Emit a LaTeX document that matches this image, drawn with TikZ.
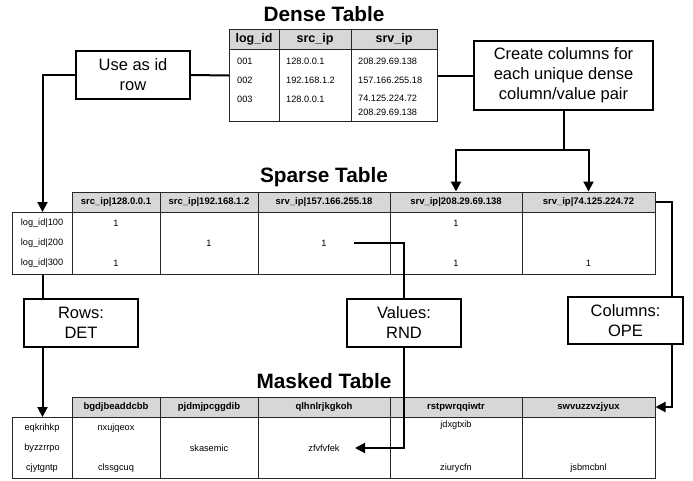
\documentclass[tikz,border=0pt]{standalone}
\usepackage{fontspec}
\setmainfont{Liberation Sans}
\usetikzlibrary{arrows.meta}

\definecolor{headgray}{RGB}{215,215,215}

\tikzset{
  conn/.style={line width=2pt},
  arr/.style={conn, -{Triangle[length=10pt,width=10pt]}},
  note/.style={draw, line width=1.7pt, fill=white, align=center, inner sep=0pt,
    font=\fontsize{16.5}{20}\selectfont},
  tabtitle/.style={font=\fontsize{20.8}{24}\selectfont\bfseries},
  frame/.style={draw=black!85, line width=1pt, inner sep=0pt},
  headcell/.style={frame, fill=headgray, minimum height=20pt,
    font=\fontsize{9.5}{11}\selectfont\bfseries},
  cell/.style={font=\fontsize{9.2}{11}\selectfont, inner sep=1pt},
}

\begin{document}
\begin{tikzpicture}[x=1pt, y=-1pt]
\useasboundingbox (0,0) rectangle (693,480);

% Dense table
\node[tabtitle] (densetitle) at (324,14) {Dense Table};
\node[frame, minimum width=208pt, minimum height=92pt, anchor=north west] (dense) at (229,29) {};
\foreach \n/\x/\w/\t in {1/254/50/log\_id, 2/315/72/src\_ip, 3/394/86/srv\_ip}
  \node[headcell, minimum width=\w pt, font=\fontsize{12.5}{14}\selectfont\bfseries] (dh\n) at (\x,39) {\t};
\foreach \n in {1,2}
  \draw[frame] (dh\n.north east) -- (dh\n.north east |- dense.south);
\foreach \r/\y/\a/\b/\c in {1/64/001/128.0.0.1/208.29.69.138, 2/83/002/192.168.1.2/157.166.255.18} {
  \node[cell, anchor=base west] (d\r a) at (236,\y) {\a};
  \node[cell, anchor=base west] (d\r b) at (285,\y) {\b};
  \node[cell, anchor=base west] (d\r c) at (357,\y) {\c};
}
\node[cell, anchor=base west] (d3a) at (236,102) {003};
\node[cell, anchor=base west] (d3b) at (285,102) {128.0.0.1};
\node[cell, anchor=north west, align=left, font=\fontsize{9.2}{14}\selectfont] (d3c) at (357,94) {74.125.224.72\\208.29.69.138};

% Sparse table
\node[tabtitle] (sparsetitle) at (324,177) {Sparse Table};
\foreach \n/\x/\w/\t in {1/116/88/{src\_ip|128.0.0.1}, 2/209/98/{src\_ip|192.168.1.2},
    3/324/132/{srv\_ip|157.166.255.18}, 4/456/132/{srv\_ip|208.29.69.138}, 5/588.5/133/{srv\_ip|74.125.224.72}}
  \node[headcell, minimum width=\w pt] (sh\n) at (\x,202) {\t};
\node[frame, minimum width=60pt, minimum height=62pt, anchor=north west] (sparseid) at (12,212) {};
\node[frame, minimum width=583pt, minimum height=62pt, anchor=north west] (sparsedata) at (72,212) {};
\foreach \n in {1,...,4}
  \draw[frame] (sh\n.south east) -- (sh\n.south east |- sparsedata.south);
\foreach \r/\y/\v in {1/223/100, 2/243/200, 3/263/300}
  \node[cell] (sl\r) at (42,\y) {log\_id|\v};
\foreach \n/\x/\y in {11/116/223, 14/456/223, 22/209/243, 23/324/243, 31/116/263, 34/456/263, 35/588.5/263}
  \node[cell] (s\n) at (\x,\y) {1};

% Masked table
\node[tabtitle] (maskedtitle) at (324,381) {Masked Table};
\foreach \n/\x/\w/\t in {1/116/88/bgdjbeaddcbb, 2/209/98/pjdmjpcggdib,
    3/324/132/qlhnlrjkgkoh, 4/456/132/rstpwrqqiwtr, 5/588.5/133/swvuzzvzjyux}
  \node[headcell, minimum width=\w pt] (mh\n) at (\x,407) {\t};
\node[frame, minimum width=60pt, minimum height=61pt, anchor=north west] (maskid) at (12,417) {};
\node[frame, minimum width=583pt, minimum height=61pt, anchor=north west] (maskdata) at (72,417) {};
\foreach \n in {1,...,4}
  \draw[frame] (mh\n.south east) -- (mh\n.south east |- maskdata.south);
\foreach \r/\y/\v in {1/428/eqkrihkp, 2/448/byzzrrpo, 3/468/cjytgntp}
  \node[cell] (ml\r) at (42,\y) {\v};
\foreach \n/\x/\y/\v in {11/116/428/nxujqeox, 14/456/425/jdxgtxib, 22/209/448/skasemic, 23/324/448/zfvfvfek,
    31/116/468/clssgcuq, 34/456/468/ziurycfn, 35/588.5/468/jsbmcbnl}
  \node[cell] (m\n) at (\x,\y) {\v};

% Boxes
\node[note, minimum width=114pt, minimum height=48pt] (useid) at (133,75) {Use as id\\row};
\node[note, minimum width=179pt, minimum height=69pt] (create) at (563.5,75.5) {Create columns for\\each unique dense\\column/value pair};
\node[note, minimum width=114pt, minimum height=48pt] (det) at (81,323) {Rows:\\DET};
\node[note, minimum width=114pt, minimum height=48pt] (rnd) at (404,323) {Values:\\RND};
\node[note, minimum width=115pt, minimum height=47pt] (ope) at (625.5,320.5) {Columns:\\OPE};

% Connectors
\coordinate (valstart) at (354,243);
\coordinate (valend) at (355,448);
\coordinate (opex) at (672,202);

\draw[conn] (dense.west) -- (useid.east);
\draw[arr] (useid.west) -| (sparseid.north);
\draw[conn] (dense.east) -- (create.west);
\foreach \n in {4,5}
  \draw[arr] (create.south) -- ++(0,39) -| (sh\n.north);
\draw[conn] (sparseid.south) -- (sparseid.south |- det.north);
\draw[arr] (sparseid.south |- det.south) -- (maskid.north);
\draw[conn] (valstart) -| (rnd.north);
\draw[arr] (rnd.south) |- (valend);
\draw[conn] (sh5.east) -| (opex |- ope.north);
\draw[arr] (opex |- ope.south) |- (mh5.east);

\end{tikzpicture}
\end{document}
